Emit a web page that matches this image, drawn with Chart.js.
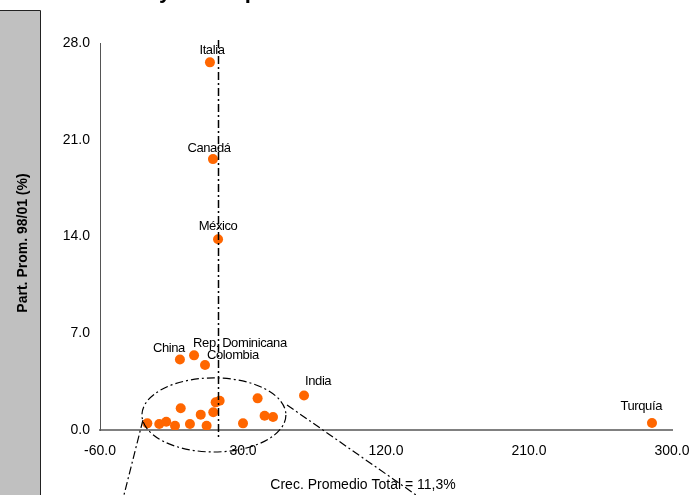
<!DOCTYPE html>
<html>
<head>
<meta charset="utf-8">
<script src="https://cdn.jsdelivr.net/npm/chart.js@4/dist/chart.umd.min.js"></script>
<style>
    html, body { margin: 0; padding: 0; background: #fff; }
    canvas { display: block; }
</style>
</head>
<body>
<canvas id="scatter-growth-share" width="693" height="495"></canvas>
<script>
// labelled markets: growth 98/01 (%) vs average share 98/01 (%)
var namedMarkets = ['Italia', 'Canadá', 'México', 'China', 'Rep. Dominicana', 'Colombia', 'India', 'Turquía'];
var namedGrowth = [9.2, 11.1, 14.3, -9.7, -0.8, 6.1, 68.4, 287.4];
var namedShare = [26.6, 19.6, 13.8, 5.1, 5.4, 4.7, 2.5, 0.5];

// small markets inside the circled cluster
var otherGrowth = [-30.2, -22.7, -18.3, -12.8, -9.2, -3.4, 3.4, 7.1, 11.3, 12.8, 15.3, 30.0, 39.2, 43.6, 48.9];
var otherShare = [0.48, 0.43, 0.60, 0.31, 1.57, 0.43, 1.11, 0.31, 1.28, 2.0, 2.12, 0.48, 2.29, 1.03, 0.94];

var xTicks = [-60, 30, 120, 210, 300];
var yTicks = [0, 7, 14, 21, 28];
var avgLine = 14.3;
var avgLabel = 'Crec. Promedio Total = 11,3%';

// label placement (style only)
var labelAlign = ['center', 'center', 'center', 'right', 'left', 'left', 'left', 'right'];
var labelDx = [2, -4, 0, 5, -1, 2, 1, 10];
var labelDy = [-12, -11, -13, -11, -12, -10, -14, -17];

var dotColor = '#ff6600';
var fontName = '"Liberation Sans", Arial, sans-serif';
var dashDot = [8, 3, 2, 3];

var points = [];
namedGrowth.forEach(function (g, i) { points.push({ x: g, y: namedShare[i] }); });
otherGrowth.forEach(function (g, i) { points.push({ x: g, y: otherShare[i] }); });

var decorPlugin = {
    id: 'decor',
    beforeDraw: function (chart) {
        var c = chart.ctx;
        c.save();
        // grey side band for the y title
        c.fillStyle = '#c0c0c0';
        c.fillRect(0, 10, 40, 485);
        c.strokeStyle = '#222';
        c.lineWidth = 1;
        c.beginPath();
        c.moveTo(0, 10.5); c.lineTo(40.5, 10.5); c.lineTo(40.5, 495);
        c.stroke();

        // title, mostly off the top edge
        c.fillStyle = '#000';
        c.font = 'bold 22px ' + fontName;
        c.textAlign = 'left';
        c.textBaseline = 'alphabetic';
        c.fillText('Destinos y Participaciones', 60, -2);

        c.translate(23, 243);
        c.rotate(-Math.PI / 2);
        c.font = 'bold 14px ' + fontName;
        c.textAlign = 'center';
        c.textBaseline = 'middle';
        c.fillText('Part. Prom. 98/01 (%)', 0, 0);
        c.restore();
    },
    afterDatasetsDraw: function (chart) {
        var c = chart.ctx;
        var xs = chart.scales.x, ys = chart.scales.y;
        c.save();
        c.strokeStyle = '#000';
        c.lineWidth = 1.5;
        c.setLineDash(dashDot);

        // average growth line
        var ax = Math.round(xs.getPixelForValue(avgLine)) + 0.5;
        c.beginPath();
        c.moveTo(ax, chart.chartArea.top - 3);
        c.lineTo(ax, chart.chartArea.bottom + 10);
        c.stroke();

        // cluster ellipse and zoom lines
        var cx = xs.getPixelForValue(11.7), cy = ys.getPixelForValue(1.09);
        var rx = Math.abs(xs.getPixelForValue(11.7 + 45.3) - cx);
        var ry = Math.abs(ys.getPixelForValue(1.09 + 2.68) - cy);
        c.lineWidth = 1.2;
        c.beginPath();
        c.ellipse(cx, cy, rx, ry, 0, 0, Math.PI * 2);
        c.stroke();

        c.beginPath();
        c.moveTo(xs.getPixelForValue(-33), ys.getPixelForValue(0.72));
        c.lineTo(xs.getPixelForValue(-44.9), ys.getPixelForValue(-4.7));
        c.moveTo(xs.getPixelForValue(57.7), ys.getPixelForValue(1.81));
        c.lineTo(xs.getPixelForValue(138.9), ys.getPixelForValue(-4.7));
        c.stroke();
        c.setLineDash([]);

        // market names
        c.fillStyle = '#000';
        c.font = '13px ' + fontName;
        c.letterSpacing = '-0.4px';
        c.textBaseline = 'middle';
        namedMarkets.forEach(function (name, i) {
            var px = xs.getPixelForValue(namedGrowth[i]);
            var py = ys.getPixelForValue(namedShare[i]);
            c.textAlign = labelAlign[i];
            c.fillText(name, px + labelDx[i], py + labelDy[i]);
        });

        c.letterSpacing = '0px';
        c.font = '14px ' + fontName;
        c.textAlign = 'center';
        c.fillText(avgLabel, 363, 485);
        c.restore();
    }
};

var canvas = document.getElementById('scatter-growth-share');
var ctx = canvas.getContext('2d');
var growthShareChart = new Chart(ctx, {
    type: 'scatter',
    data: {
        datasets: [{
            label: 'Mercados',
            data: points,
            backgroundColor: dotColor,
            borderColor: dotColor,
            pointRadius: 5,
            pointBorderWidth: 0
        }]
    },
    options: {
        responsive: false,
        animation: false,
        events: [],
        layout: { padding: { left: 40, top: 43, right: 21, bottom: 0 } },
        plugins: { legend: { display: false }, tooltip: { enabled: false } },
        scales: {
            x: {
                type: 'linear',
                min: -60,
                max: 300,
                afterBuildTicks: function (axis) {
                    axis.ticks = xTicks.map(function (v) { return { value: v }; });
                },
                afterFit: function (axis) {
                    axis.height = 65;
                    axis.paddingLeft = 0;
                    axis.paddingRight = 0;
                },
                grid: { display: false, drawTicks: false },
                border: { color: '#808080', width: 2 },
                ticks: {
                    padding: 13,
                    color: '#000',
                    font: { family: fontName, size: 14 },
                    callback: function (v) { return v.toFixed(1); }
                }
            },
            y: {
                min: 0,
                max: 28,
                afterBuildTicks: function (axis) {
                    axis.ticks = yTicks.map(function (v) { return { value: v }; });
                },
                afterFit: function (axis) {
                    axis.width = 60;
                    axis.paddingTop = 0;
                    axis.paddingBottom = 0;
                },
                grid: { display: false, drawTicks: false },
                border: { color: '#555', width: 1 },
                ticks: {
                    padding: 10,
                    color: '#000',
                    font: { family: fontName, size: 14 },
                    callback: function (v) { return v.toFixed(1); }
                }
            }
        }
    },
    plugins: [decorPlugin]
});
</script>
</body>
</html>
